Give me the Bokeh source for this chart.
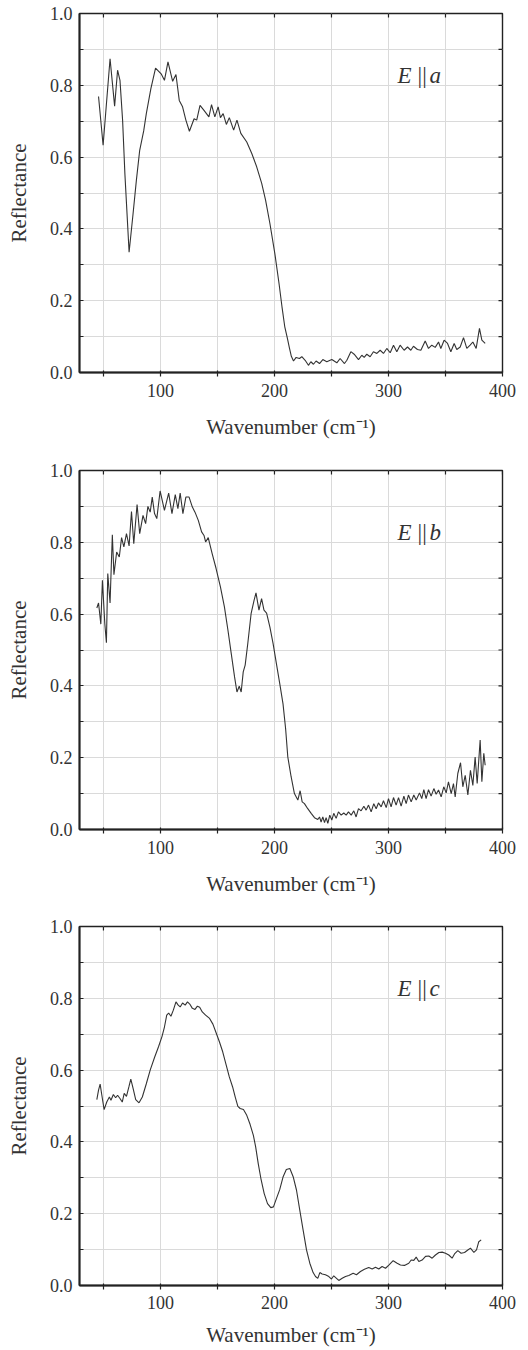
from math import pi
from bokeh.plotting import figure
from bokeh.models import FixedTicker, Label, Range1d, PrintfTickFormatter
from bokeh.layouts import column
from bokeh.embed import file_html
from bokeh.resources import INLINE

# ---------------- data ----------------
wn_a = [45.7, 49.7, 55.8, 59.8, 62.4, 64.5, 66.8, 68.8, 72.5, 76.0, 78.9, 81.8, 85.3, 87.6,
        91.6, 95.7, 100.6, 103.5, 106.6, 110.7, 113.6, 116.5, 119.4, 122.3, 125.4, 129.5,
        131.8, 134.7, 138.2, 142.5, 144.8, 147.7, 150.6, 152.6, 155.0, 157.8, 160.4, 164.2,
        167.1, 170.5, 175.7, 180.1, 184.4, 188.8, 192.2, 196.0, 200.3, 204.0, 206.6, 209.0,
        211.3, 213.0, 214.8, 216.7, 219.0, 221.9, 224.0, 226.9, 229.8, 231.9, 234.2, 236.5,
        239.5, 242.4, 245.9, 250.3, 254.7, 257.6, 261.4, 263.5, 267.0, 269.9, 273.7, 276.6,
        278.7, 281.0, 283.9, 286.8, 289.8, 292.7, 295.6, 298.5, 301.5, 304.4, 307.3, 310.2,
        313.7, 316.7, 319.6, 321.9, 325.4, 328.4, 332.2, 335.1, 338.0, 341.0, 343.9, 345.9,
        348.8, 351.8, 354.7, 357.6, 359.9, 362.9, 365.8, 368.7, 371.6, 374.0, 376.9, 379.8,
        381.9, 384.8]
refl_a = [0.769, 0.633, 0.874, 0.742, 0.842, 0.814, 0.703, 0.554, 0.335, 0.443, 0.536, 0.619,
          0.673, 0.721, 0.791, 0.848, 0.832, 0.814, 0.865, 0.811, 0.830, 0.758, 0.740, 0.703,
          0.672, 0.707, 0.703, 0.744, 0.730, 0.712, 0.746, 0.712, 0.740, 0.710, 0.721, 0.691,
          0.710, 0.675, 0.703, 0.666, 0.642, 0.610, 0.573, 0.527, 0.480, 0.415, 0.332, 0.248,
          0.183, 0.128, 0.096, 0.070, 0.045, 0.032, 0.042, 0.039, 0.044, 0.034, 0.020, 0.030,
          0.023, 0.032, 0.025, 0.036, 0.030, 0.036, 0.027, 0.039, 0.025, 0.034, 0.058, 0.051,
          0.036, 0.048, 0.042, 0.051, 0.044, 0.058, 0.053, 0.062, 0.053, 0.067, 0.055, 0.076,
          0.058, 0.076, 0.062, 0.071, 0.062, 0.073, 0.064, 0.062, 0.088, 0.067, 0.076, 0.070,
          0.085, 0.067, 0.090, 0.081, 0.058, 0.081, 0.064, 0.071, 0.097, 0.067, 0.076, 0.085,
          0.067, 0.123, 0.090, 0.081]

wn_b = [44.2, 45.7, 47.7, 49.1, 51.2, 52.6, 53.8, 55.8, 57.8, 59.2, 61.6, 63.9, 65.9, 67.9,
        70.2, 72.5, 74.6, 76.6, 79.5, 81.8, 84.7, 87.0, 89.0, 91.0, 92.8, 94.8, 96.8, 99.7,
        103.5, 107.2, 110.1, 113.0, 115.3, 117.3, 119.7, 122.3, 125.1, 128.0, 130.3, 133.2,
        136.1, 138.2, 139.6, 141.9, 145.4, 148.8, 152.6, 156.1, 159.2, 162.1, 165.0, 167.1,
        169.1, 170.8, 172.6, 174.3, 176.6, 179.5, 182.1, 183.8, 186.4, 188.7, 190.8, 193.1,
        196.0, 198.8, 201.7, 204.6, 207.5, 209.8, 211.7, 214.6, 217.5, 220.5, 222.5, 224.3,
        226.3, 229.2, 232.2, 235.1, 238.0, 239.5, 240.9, 242.4, 243.9, 245.3, 246.8, 248.5,
        250.3, 252.0, 254.1, 256.1, 258.5, 260.8, 262.9, 264.9, 267.3, 269.6, 271.6, 273.7,
        276.0, 278.4, 280.4, 282.5, 284.8, 287.1, 289.2, 291.2, 293.6, 295.6, 298.0, 300.0,
        302.3, 304.4, 306.7, 308.8, 311.1, 313.5, 315.5, 317.5, 319.9, 322.2, 324.3, 327.2,
        329.2, 331.0, 333.0, 335.1, 337.4, 339.8, 341.8, 343.9, 346.2, 348.5, 350.6, 352.6,
        355.0, 357.0, 358.5, 360.8, 363.2, 365.2, 367.3, 369.6, 371.9, 374.0, 376.0, 377.8,
        380.4, 381.9, 383.6, 384.8]
refl_b = [0.617, 0.631, 0.572, 0.694, 0.573, 0.520, 0.713, 0.631, 0.821, 0.710, 0.773, 0.759,
          0.813, 0.787, 0.824, 0.790, 0.886, 0.796, 0.905, 0.824, 0.875, 0.852, 0.900, 0.884,
          0.926, 0.880, 0.866, 0.943, 0.889, 0.937, 0.880, 0.933, 0.894, 0.937, 0.880, 0.926,
          0.926, 0.898, 0.884, 0.861, 0.829, 0.819, 0.801, 0.813, 0.768, 0.727, 0.676, 0.620,
          0.555, 0.490, 0.425, 0.383, 0.399, 0.383, 0.439, 0.458, 0.518, 0.601, 0.638, 0.659,
          0.611, 0.643, 0.611, 0.603, 0.564, 0.518, 0.462, 0.407, 0.350, 0.280, 0.202, 0.147,
          0.100, 0.082, 0.108, 0.077, 0.072, 0.058, 0.045, 0.033, 0.028, 0.035, 0.021, 0.035,
          0.019, 0.033, 0.017, 0.040, 0.026, 0.045, 0.031, 0.049, 0.040, 0.046, 0.040, 0.049,
          0.040, 0.052, 0.035, 0.058, 0.052, 0.065, 0.054, 0.068, 0.049, 0.072, 0.058, 0.074,
          0.063, 0.080, 0.061, 0.086, 0.063, 0.089, 0.068, 0.089, 0.065, 0.093, 0.072, 0.096,
          0.077, 0.096, 0.082, 0.102, 0.086, 0.111, 0.086, 0.111, 0.093, 0.114, 0.098, 0.110,
          0.091, 0.119, 0.102, 0.133, 0.100, 0.128, 0.091, 0.156, 0.186, 0.119, 0.151, 0.096,
          0.165, 0.123, 0.202, 0.128, 0.249, 0.133, 0.212, 0.179]

wn_c = [44.2, 45.7, 47.1, 48.6, 50.6, 52.9, 55.2, 56.6, 58.7, 60.7, 62.4, 64.5, 66.5, 68.2,
        70.2, 72.3, 74.0, 76.0, 78.3, 81.2, 84.1, 87.6, 91.0, 94.8, 98.3, 101.4, 103.5, 105.5,
        107.2, 109.2, 111.3, 113.6, 115.6, 117.3, 119.4, 121.7, 123.7, 125.7, 128.0, 130.3,
        132.4, 134.4, 136.7, 139.6, 143.1, 146.0, 148.8, 151.7, 154.6, 157.5, 160.4, 163.3,
        165.6, 167.9, 169.9, 172.8, 175.7, 178.6, 181.5, 183.5, 185.8, 188.1, 191.0, 193.9,
        196.8, 199.1, 201.7, 204.6, 207.5, 210.4, 213.5, 216.4, 219.3, 222.2, 225.1, 228.1,
        231.0, 233.9, 236.0, 238.0, 239.8, 241.8, 244.7, 247.7, 250.0, 252.0, 254.4, 256.4,
        259.4, 262.3, 265.2, 269.0, 271.9, 275.4, 278.9, 282.7, 285.7, 288.6, 291.5, 294.4,
        297.4, 300.3, 304.1, 307.6, 310.5, 314.0, 317.8, 319.9, 322.2, 324.3, 326.6, 329.5,
        332.5, 335.4, 338.3, 341.2, 344.2, 347.1, 350.0, 352.9, 355.8, 357.9, 360.8, 363.7,
        366.7, 369.6, 371.9, 374.9, 377.2, 379.2, 381.3]
refl_c = [0.518, 0.544, 0.561, 0.530, 0.490, 0.511, 0.525, 0.516, 0.532, 0.523, 0.530, 0.521,
          0.511, 0.535, 0.527, 0.553, 0.575, 0.549, 0.518, 0.509, 0.525, 0.562, 0.600, 0.635,
          0.665, 0.694, 0.720, 0.753, 0.759, 0.750, 0.767, 0.790, 0.781, 0.776, 0.787, 0.781,
          0.790, 0.784, 0.772, 0.769, 0.778, 0.775, 0.762, 0.753, 0.744, 0.728, 0.704, 0.679,
          0.651, 0.616, 0.581, 0.553, 0.525, 0.499, 0.493, 0.490, 0.474, 0.449, 0.418, 0.386,
          0.339, 0.298, 0.256, 0.228, 0.217, 0.219, 0.242, 0.267, 0.302, 0.323, 0.326, 0.303,
          0.266, 0.210, 0.155, 0.099, 0.062, 0.036, 0.025, 0.020, 0.036, 0.032, 0.030, 0.025,
          0.018, 0.027, 0.020, 0.014, 0.020, 0.025, 0.028, 0.034, 0.030, 0.039, 0.045, 0.050,
          0.046, 0.051, 0.046, 0.053, 0.048, 0.057, 0.069, 0.062, 0.057, 0.056, 0.062, 0.071,
          0.070, 0.079, 0.067, 0.071, 0.081, 0.082, 0.076, 0.085, 0.092, 0.093, 0.090, 0.085,
          0.076, 0.088, 0.097, 0.090, 0.092, 0.099, 0.104, 0.092, 0.099, 0.122, 0.127]

panel_letters = ["a", "b", "c"]
x_major = [100, 200, 300, 400]
x_minor = [50, 150, 250, 350]
y_major = [0.0, 0.2, 0.4, 0.6, 0.8, 1.0]
y_minor = [0.1, 0.3, 0.5, 0.7, 0.9]
x_title = "Wavenumber (cm\u207b\u00b9)"
y_title = "Reflectance"

FONT = "'Liberation Serif', 'Times New Roman', serif"
TXT = "#333333"
GRID = "#dadada"
INK = "#222222"


def make_panel(wn, refl, letter, height, border_bottom, label_standoff, title_standoff):
    p = figure(width=528, height=height, x_range=Range1d(29, 400), y_range=Range1d(0, 1),
               output_backend="svg", toolbar_location=None,
               min_border_left=79, min_border_right=26, min_border_top=13,
               min_border_bottom=border_bottom)
    p.background_fill_color = "white"
    p.border_fill_color = "white"
    p.outline_line_color = INK
    p.outline_line_width = 1.4

    # grids at major and minor positions
    for g in (p.xgrid[0], p.ygrid[0]):
        g.grid_line_color = GRID
        g.grid_line_width = 1
        g.minor_grid_line_color = GRID
        g.minor_grid_line_width = 1

    p.line(wn, refl, line_color="#333333", line_width=1.1)

    # bottom axis
    xa = p.xaxis[0]
    xa.ticker = FixedTicker(ticks=x_major, minor_ticks=x_minor)
    xa.axis_line_color = INK
    xa.axis_line_width = 2
    xa.major_tick_in = 2
    xa.major_tick_out = 4
    xa.minor_tick_in = 2
    xa.minor_tick_out = 4
    xa.major_tick_line_color = INK
    xa.minor_tick_line_color = INK
    xa.major_tick_line_width = 1.2
    xa.minor_tick_line_width = 1.2
    xa.major_label_standoff = label_standoff
    xa.major_label_text_font = FONT
    xa.major_label_text_font_size = "18px"
    xa.major_label_text_color = TXT
    xa.axis_label = x_title
    xa.axis_label_text_font = FONT
    xa.axis_label_text_font_size = "21px"
    xa.axis_label_text_font_style = "normal"
    xa.axis_label_text_color = TXT
    xa.axis_label_standoff = title_standoff

    # left axis
    ya = p.yaxis[0]
    ya.ticker = FixedTicker(ticks=y_major, minor_ticks=y_minor)
    ya.formatter = PrintfTickFormatter(format="%.1f")
    ya.axis_line_color = INK
    ya.axis_line_width = 2
    ya.major_tick_in = 4
    ya.major_tick_out = 0
    ya.minor_tick_in = 4
    ya.minor_tick_out = 0
    ya.major_tick_line_color = INK
    ya.minor_tick_line_color = INK
    ya.major_label_standoff = 7
    ya.major_label_text_font = FONT
    ya.major_label_text_font_size = "18px"
    ya.major_label_text_color = TXT
    ya.axis_label = y_title
    ya.axis_label_text_font = FONT
    ya.axis_label_text_font_size = "21px"
    ya.axis_label_text_font_style = "normal"
    ya.axis_label_text_color = TXT
    ya.axis_label_standoff = 16

    # mirrored inward ticks on the top and right frame edges
    x_all = sorted(x_major + x_minor)
    y_all = sorted(y_major + y_minor)
    top_y = p.y_range.end
    right_x = p.x_range.end
    p.ray(x=x_all, y=[top_y] * len(x_all), length=4, length_units="screen",
          angle=-pi / 2, line_color=INK, line_width=1.2)
    p.ray(x=[right_x] * len(y_all), y=y_all, length=4, length_units="screen",
          angle=pi, line_color=INK, line_width=1.2)

    # E || letter annotation
    common = dict(x=308, y=0.828, text_font=FONT, text_font_size="23px",
                  text_color=TXT, text_baseline="alphabetic", text_align="left")
    p.add_layout(Label(text="E", text_font_style="italic", x_offset=0, **common))
    p.add_layout(Label(text="||", text_font_style="normal", x_offset=20, **common))
    p.add_layout(Label(text=letter, text_font_style="italic", x_offset=32, **common))
    return p


p1 = make_panel(wn_a, refl_a, panel_letters[0], 457, 85, 7, 15)
p2 = make_panel(wn_b, refl_b, panel_letters[1], 456, 84, 7, 15)
p3 = make_panel(wn_c, refl_c, panel_letters[2], 437, 65, 6, 11)

layout = column(p1, p2, p3, spacing=0)
open("out.html", "w").write(file_html(layout, INLINE))
